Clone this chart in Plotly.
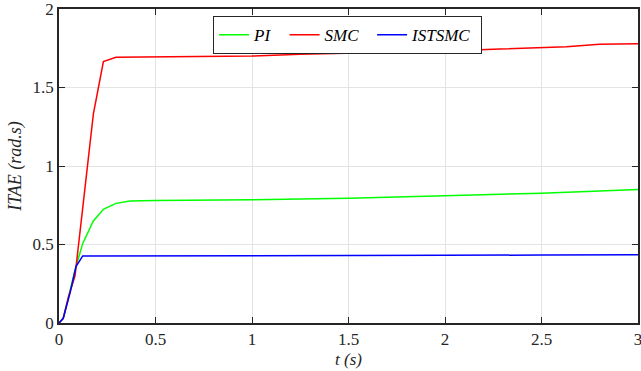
import plotly.graph_objects as go

# PI
t_pi = [0, 0.022, 0.05, 0.083, 0.123, 0.178, 0.23, 0.295, 0.368, 0.5, 1.0, 1.5, 2.0, 2.5, 3.0]
y_pi = [0, 0.03, 0.17, 0.338, 0.507, 0.65, 0.724, 0.762, 0.777, 0.781, 0.785, 0.795, 0.81, 0.827, 0.85]

# SMC
t_smc = [0, 0.022, 0.05, 0.083, 0.178, 0.23, 0.295, 0.5, 1.0, 1.249, 1.508, 1.767, 1.886, 2.078, 2.285, 2.49, 2.63, 2.80, 3.0]
y_smc = [0, 0.03, 0.17, 0.30, 1.33, 1.665, 1.692, 1.693, 1.700, 1.711, 1.718, 1.726, 1.739, 1.735, 1.745, 1.756, 1.760, 1.775, 1.778]

# ISTSMC
t_ist = [0, 0.022, 0.057, 0.088, 0.123, 0.5, 1.0, 1.5, 2.0, 2.5, 3.0]
y_ist = [0, 0.03, 0.19, 0.359, 0.427, 0.427, 0.428, 0.429, 0.431, 0.433, 0.435]

font_family = "Liberation Serif, Times New Roman, serif"

fig = go.Figure()
fig.add_trace(go.Scatter(x=t_pi, y=y_pi, mode="lines", name="<i>PI</i>&nbsp;&nbsp;",
                         line=dict(color="#00ff00", width=1.5)))
fig.add_trace(go.Scatter(x=t_smc, y=y_smc, mode="lines", name="<i>SMC</i>&nbsp;&nbsp;",
                         line=dict(color="#ff0000", width=1.5)))
fig.add_trace(go.Scatter(x=t_ist, y=y_ist, mode="lines", name="<i>ISTSMC</i>&nbsp;",
                         line=dict(color="#0000ff", width=1.5)))

axis_common = dict(
    showline=True, linecolor="#262626", linewidth=1.5, mirror="ticks",
    ticks="inside", ticklen=6, tickcolor="#262626", tickwidth=1.2,
    showgrid=True, gridcolor="#e3e3e3", gridwidth=1,
    zeroline=False, automargin=False, ticklabeloverflow="allow",
    tickfont=dict(family=font_family, size=17, color="#262626"),
)

fig.update_layout(
    width=641, height=371,
    margin=dict(l=59, r=3, t=9, b=48),
    paper_bgcolor="white", plot_bgcolor="white",
    font=dict(family=font_family),
    xaxis=dict(range=[0, 3], tickvals=[0, 0.5, 1, 1.5, 2, 2.5, 3],
               ticktext=["0", "0.5", "1", "1.5", "2", "2.5", "3"],
               title=dict(text="<i>t (s)</i>", font=dict(family=font_family, size=17, color="#262626"),
                          standoff=5),
               **axis_common),
    yaxis=dict(range=[0, 2], tickvals=[0, 0.5, 1, 1.5, 2],
               ticktext=["0", "0.5", "1", "1.5", "2"],
               title=dict(text="<i>ITAE (rad.s)</i>", font=dict(family=font_family, size=18, color="#262626"),
                          standoff=6),
               **axis_common),
    legend=dict(orientation="h", x=0.498, y=0.978, xanchor="center", yanchor="top",
                bgcolor="white", bordercolor="#262626", borderwidth=1.2,
                font=dict(family=font_family, size=17, color="black"),
                itemwidth=30, tracegroupgap=0),
    showlegend=True,
)

fig.write_html("out.html")
